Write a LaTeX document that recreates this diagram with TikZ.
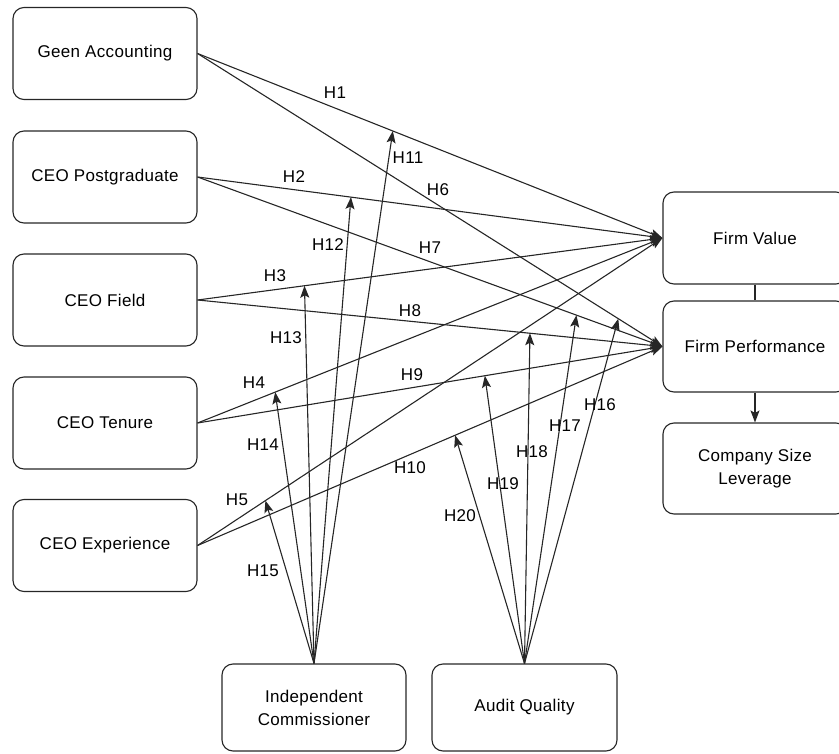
\documentclass[tikz,border=0pt]{standalone}
\usepackage{fontspec}
\setmainfont{Liberation Sans}[LetterSpace=2]
\usetikzlibrary{arrows.meta,calc}
\begin{document}
\begin{tikzpicture}[x=1pt,y=-1pt,
  box/.style={draw=black!85,line width=1.1pt,rounded corners=11pt,minimum width=184pt,minimum height=92pt,align=center,font=\fontsize{17}{23}\selectfont,inner sep=0pt},
  conn/.style={draw=black!85,line width=1.1pt,-{Stealth[length=12pt,width=9pt,inset=2.5pt]}},
  plain/.style={draw=black!85,line width=1.1pt},
  lbl/.style={font=\fontsize{17}{20}\selectfont,inner sep=0pt}]
\useasboundingbox (0,0) rectangle (839,754);
\clip (0,0) rectangle (839,754);
% left boxes
\node[box] (GA) at (105,53.5) {Geen Accounting};
\node[box] (CP) at (105,177) {CEO Postgraduate};
\node[box] (CF) at (105,300) {CEO Field};
\node[box] (CT) at (105,423) {CEO Tenure};
\node[box] (CE) at (105,545.5) {CEO Experience};
% right boxes
\node[box] (FV) at (755,238) {Firm Value};
\node[box,minimum height=91pt] (FP) at (755,346.5) {Firm Performance};
\node[box,minimum height=91pt] (CS) at (755,468.5) {Company Size\\Leverage};
% bottom boxes
\node[box,minimum height=87pt] (IC) at (314,707.5) {Independent\\Commissioner};
\node[box,minimum width=185pt,minimum height=87pt] (AQ) at (524.5,707.5) {Audit Quality};
% right connectors
\draw[plain] (FV.south) -- (FP.north);
\draw[conn] (FP.south) -- (CS.north);
% main paths
\draw[conn] (GA.east) -- (FV.west);
\draw[conn] (CP.east) -- (FV.west);
\draw[conn] (CF.east) -- (FV.west);
\draw[conn] (CT.east) -- (FV.west);
\draw[conn] (CE.east) -- (FV.west);
\draw[conn] (GA.east) -- (FP.west);
\draw[conn] (CP.east) -- (FP.west);
\draw[conn] (CF.east) -- (FP.west);
\draw[conn] (CT.east) -- (FP.west);
\draw[conn] (CE.east) -- (FP.west);
% moderator target points
\coordinate (m11) at ($(GA.east)!0.42!(FV.west)$);
\coordinate (m12) at ($(CP.east)!0.33!(FV.west)$);
\coordinate (m13) at ($(CF.east)!0.23!(FV.west)$);
\coordinate (m14) at ($(CT.east)!0.167!(FV.west)$);
\coordinate (m15) at ($(CE.east)!0.146!(FV.west)$);
\coordinate (m16) at ($(GA.east)!0.905!(FP.west)$);
\coordinate (m17) at ($(CP.east)!0.815!(FP.west)$);
\coordinate (m18) at ($(CF.east)!0.715!(FP.west)$);
\coordinate (m19) at ($(CT.east)!0.618!(FP.west)$);
\coordinate (m20) at ($(CE.east)!0.554!(FP.west)$);
\foreach \m in {11,12,13,14,15}{\draw[conn] (IC.north) -- (m\m);}
\foreach \m in {16,17,18,19,20}{\draw[conn] (AQ.north) -- (m\m);}
% labels
\node[lbl] (L1) at (335,93) {H1};
\node[lbl] (L2) at (294,177) {H2};
\node[lbl] (L3) at (275,276) {H3};
\node[lbl] (L4) at (254,383) {H4};
\node[lbl] (L5) at (237,500) {H5};
\node[lbl] (L6) at (438,190) {H6};
\node[lbl] (L7) at (430,248) {H7};
\node[lbl] (L8) at (410,311) {H8};
\node[lbl] (L9) at (412,375) {H9};
\node[lbl] (L10) at (410,468) {H10};
\node[lbl] (L11) at (408,158) {H11};
\node[lbl] (L12) at (328,245) {H12};
\node[lbl] (L13) at (286,338) {H13};
\node[lbl] (L14) at (263,445) {H14};
\node[lbl] (L15) at (263,571) {H15};
\node[lbl] (L16) at (600,405) {H16};
\node[lbl] (L17) at (565,426) {H17};
\node[lbl] (L18) at (532,452) {H18};
\node[lbl] (L19) at (503,484) {H19};
\node[lbl] (L20) at (460,516) {H20};
\end{tikzpicture}
\end{document}
